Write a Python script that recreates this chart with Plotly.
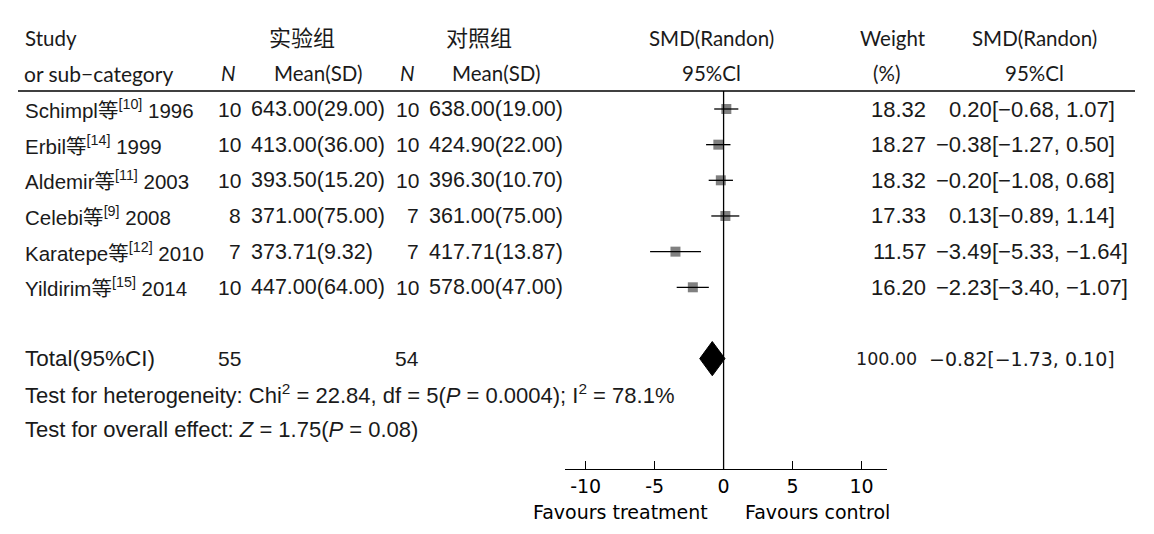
import plotly.graph_objects as go

# --- Daten ---
authors = ['Schimpl', 'Erbil', 'Aldemir', 'Celebi', 'Karatepe', 'Yildirim']
refs = ['10', '14', '11', '9', '12', '15']
years = [1996, 1999, 2003, 2008, 2010, 2014]

n_exp = [10, 10, 10, 8, 7, 10]
mean_exp = [643.00, 413.00, 393.50, 371.00, 373.71, 447.00]
sd_exp = [29.00, 36.00, 15.20, 75.00, 9.32, 64.00]

n_ctl = [10, 10, 10, 7, 7, 10]
mean_ctl = [638.00, 424.90, 396.30, 361.00, 417.71, 578.00]
sd_ctl = [19.00, 22.00, 10.70, 75.00, 13.87, 47.00]

weights = [18.32, 18.27, 18.32, 17.33, 11.57, 16.20]
smd = [0.20, -0.38, -0.20, 0.13, -3.49, -2.23]
ci_lo = [-0.68, -1.27, -1.08, -0.89, -5.33, -3.40]
ci_hi = [1.07, 0.50, 0.68, 1.14, -1.64, -1.07]

total_n_exp = 55
total_n_ctl = 54
total_weight = 100.00
total_smd = -0.82
total_lo = -1.73
total_hi = 0.10

tick_vals = [-10, -5, 0, 5, 10]
tick_text = ['-10', '-5', '0', '5', '10']

# --- Layout (Pixel im Referenzbild; die Seite hat 8px Body-Rand) ---
OFF = 8
W, H = 1154 - 2 * OFF, 534 - 2 * OFF
ROW0, ROW_H = 109, 35.66     # y-Pixel der ersten Studie, Zeilenabstand
AX_Y, TOP_Y = 469.3, 91      # Achsenlinie, obere Trennlinie
X_L, X_R = 565, 887

F_ROW = 'Liberation Sans, Arial, Noto Sans CJK SC'
F_HEAD = 'Lato, Noto Sans CJK SC'
F_TAH = 'DejaVu Sans'


def px(v):
    return (v - OFF) / W


def py(v):
    return (H - (v - OFF)) / H


def row_of(p):
    return (p - ROW0) / ROW_H


def fmt(v):
    return f'{v:.2f}'.replace('-', '\u2212')


TOTAL_ROW = len(authors) + 1
HET_ROW = TOTAL_ROW + 1
EFF_ROW = TOTAL_ROW + 2
rows = list(range(len(authors)))

fig = go.Figure()

# Quadrate
fig.add_trace(go.Scatter(
    x=smd, y=rows, mode='markers',
    marker=dict(symbol='square', size=10, color='#808080', line=dict(width=0)),
    showlegend=False, hoverinfo='skip',
))

# Konfidenzintervalle
ci_x, ci_y = [], []
for lo, hi, r in zip(ci_lo, ci_hi, rows):
    ci_x += [lo, hi, None]
    ci_y += [r, r, None]
fig.add_trace(go.Scatter(
    x=ci_x, y=ci_y, mode='lines',
    line=dict(color='black', width=1.3),
    showlegend=False, hoverinfo='skip',
))

# Raute (Gesamteffekt)
dh = 0.48
fig.add_trace(go.Scatter(
    x=[total_lo, total_smd, total_hi, total_smd, total_lo],
    y=[TOTAL_ROW, TOTAL_ROW - dh, TOTAL_ROW, TOTAL_ROW + dh, TOTAL_ROW],
    mode='lines', fill='toself', fillcolor='black',
    line=dict(color='black', width=1),
    showlegend=False, hoverinfo='skip',
))

ann = []


def txt(x, row, text, anchor='left', font=F_ROW, size=20.5):
    ann.append(dict(
        x=px(x), xref='paper', y=row, yref='y',
        text=text, showarrow=False, xanchor=anchor, yanchor='middle',
        font=dict(family=font, size=size, color='#1a1a1a'),
    ))


# Kopfzeilen
HS = 20.5
txt(23, -2, 'Study', font=F_HEAD, size=HS)
txt(22, -1, 'or sub\u2212category', font=F_HEAD, size=21)
txt(302, -2, '实验组', 'center', font=F_HEAD, size=22)
txt(479, -2, '对照组', 'center', font=F_HEAD, size=22)
txt(228, -1, '<i>N</i>', 'center', font=F_HEAD, size=HS)
txt(318, -1, 'Mean(SD)', 'center', font=F_HEAD, size=HS)
txt(407, -1, '<i>N</i>', 'center', font=F_HEAD, size=HS)
txt(496, -1, 'Mean(SD)', 'center', font=F_HEAD, size=HS)
txt(711, -2, 'SMD(Randon)', 'center', font=F_HEAD, size=HS)
txt(711, -1, '95%Cl', 'center', font=F_HEAD, size=HS)
txt(893, -2, 'Weight', 'center', font=F_HEAD, size=HS)
txt(886, -1, '(%)', 'center', font=F_HEAD, size=HS)
txt(1034, -2, 'SMD(Randon)', 'center', font=F_HEAD, size=HS)
txt(1034, -1, '95%Cl', 'center', font=F_HEAD, size=HS)

# Studienzeilen
for i in rows:
    txt(23, i, f'{authors[i]}等<sup>[{refs[i]}]</sup> {years[i]}')
    txt(243, i, str(n_exp[i]), 'right', size=21)
    txt(249, i, f'{mean_exp[i]:.2f}({sd_exp[i]:.2f})', size=21.5)
    txt(421, i, str(n_ctl[i]), 'right', size=21)
    txt(427, i, f'{mean_ctl[i]:.2f}({sd_ctl[i]:.2f})', size=21.5)
    txt(928, i, f'{weights[i]:.2f}', 'right', size=22)
    txt(994, i, fmt(smd[i]), 'right', size=22)
    txt(990, i, f'[{fmt(ci_lo[i])}, {fmt(ci_hi[i])}]', size=22)

# Gesamt
txt(23, TOTAL_ROW, 'Total(95%CI)', size=22.5)
txt(243, TOTAL_ROW, str(total_n_exp), 'right', size=21)
txt(421, TOTAL_ROW, str(total_n_ctl), 'right', size=21)
txt(919, TOTAL_ROW, f'{total_weight:.2f}', 'right', font=F_TAH, size=17.5)
txt(927, TOTAL_ROW, f'{fmt(total_smd)}[{fmt(total_lo)}, {fmt(total_hi)}]',
    font=F_TAH, size=19)
txt(23, HET_ROW, 'Test for heterogeneity: Chi<sup>2</sup> = 22.84, df = 5(<i>P</i> = 0.0004); '
                 'I<sup>2</sup> = 78.1%', size=22)
txt(23, EFF_ROW, 'Test for overall effect: <i>Z</i> = 1.75(<i>P</i> = 0.08)', size=22)

# Achsenbeschriftung
for x, t in [(620, 'Favours treatment'), (817, 'Favours control')]:
    ann.append(dict(
        x=px(x), xref='paper', y=py(512), yref='paper',
        text=t, showarrow=False, xanchor='center', yanchor='middle',
        font=dict(family=F_TAH, size=19, color='black'),
    ))

y_top = row_of(TOP_Y)
y_bot = row_of(AX_Y)

fig.update_layout(
    width=W, height=H,
    margin=dict(l=0, r=0, t=0, b=0),
    paper_bgcolor='white', plot_bgcolor='white',
    annotations=ann,
    shapes=[
        dict(type='line', xref='x', yref='y', x0=0, x1=0, y0=y_top, y1=y_bot,
             line=dict(color='black', width=1.3)),
        dict(type='line', xref='paper', yref='y', x0=px(18), x1=px(1135),
             y0=y_top, y1=y_top, line=dict(color='black', width=1.3)),
    ],
)

fig.update_xaxes(
    domain=[px(X_L), px(X_R)], range=[-11.5, 11.85],
    anchor='free', position=py(AX_Y),
    tickvals=tick_vals, ticktext=tick_text,
    ticks='inside', ticklen=8, tickcolor='black', tickwidth=1,
    showline=True, linecolor='black', linewidth=1.3,
    showgrid=False, zeroline=False,
    tickfont=dict(family=F_TAH, size=19, color='black'),
)
fig.update_yaxes(
    domain=[0, 1], range=[row_of(H + OFF), row_of(OFF)],
    visible=False, showgrid=False, zeroline=False,
)

fig.write_html('out.html')
